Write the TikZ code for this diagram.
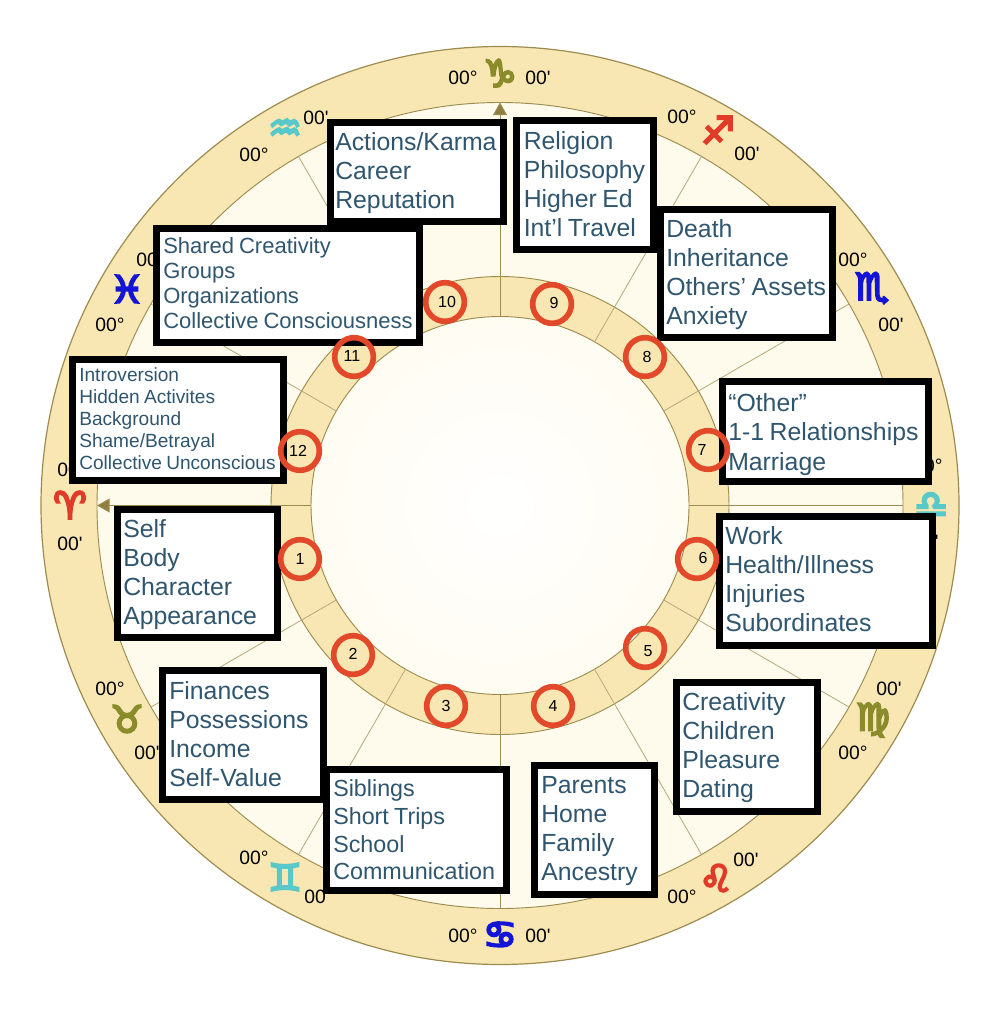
\documentclass[tikz,border=0pt]{standalone}
\usepackage{fontspec}
\setmainfont[WordSpace=0.8]{Liberation Sans}
\newfontfamily\degfont{Liberation Sans}
\newfontfamily\zodfont[FakeBold=6]{DejaVu Sans}
\usetikzlibrary{arrows.meta,calc}
\definecolor{ringfill}{HTML}{F8E7B2}
\definecolor{ringedge}{HTML}{9C8C50}
\definecolor{creamfill}{HTML}{FEFAEC}
\definecolor{holeedge}{HTML}{FFFCF2}
\definecolor{boxtext}{HTML}{2F566E}
\definecolor{circred}{HTML}{E2492B}
\definecolor{zolive}{HTML}{8A8C2C}
\definecolor{zred}{HTML}{E03A28}
\definecolor{zblue}{HTML}{1414D8}
\definecolor{zteal}{HTML}{58C8C8}
\definecolor{tipcol}{HTML}{8F7F40}
\tikzset{
  x=0.75pt,y=-0.75pt,
  cusp/.style={draw=ringedge!75,line width=0.6pt},
  axis/.style={draw=ringedge,line width=0.7pt},
  numcircle/.style={circle,draw=circred,line width=4.2pt,minimum size=29pt,inner sep=0pt},
  numlabel/.style={font=\fontsize{12pt}{12pt}\selectfont,text=black,inner sep=0pt},
  deg/.style={font=\degfont\fontsize{14.5pt}{14.5pt}\selectfont,text=black,inner sep=0pt},
  zod/.style={font=\zodfont\fontsize{28pt}{28pt}\selectfont,inner sep=0pt},
  frame/.style={draw=black,fill=white,line width=5.25pt,rectangle,inner sep=0pt},
  boxlabel/.style={text=boxtext,align=left,anchor=west,inner sep=0pt}
}
% name, x0, y0, x1, y1, text inset px, font px, leading px, text; the text is moved down by \tshift px
\newcommand\tshift{0}
\newcommand\infobox[9]{%
  \pgfmathsetmacro\bw{(#4-#2-7)*0.75}%
  \pgfmathsetmacro\bh{(#5-#3-7)*0.75}%
  \pgfmathsetmacro\fs{#7*0.75}%
  \pgfmathsetmacro\fl{#8*0.75}%
  \node[frame,minimum width=\bw pt,minimum height=\bh pt] (#1) at ({(#2+#4)/2},{(#3+#5)/2}) {};%
  \node[boxlabel,font=\fontsize{\fs pt}{\fl pt}\selectfont] (#1t) at ({#2+#6},{(#3+#5)/2+\tshift}) {#9};%
}
\begin{document}
\begin{tikzpicture}
\useasboundingbox (0,0) rectangle (1000,1016);
\fill[white] (0,0) rectangle (1000,1016);
\coordinate (c) at (500,505.5);
% wheel
\draw[fill=ringfill,draw=ringedge,line width=0.9pt] (c) circle[radius=344.25pt];
\draw[fill=creamfill,draw=ringedge,line width=0.7pt] (c) circle[radius=302.25pt];
\draw[fill=ringfill,draw=ringedge,line width=0.7pt] (c) circle[radius=171.75pt];
\shade[inner color=white,outer color=holeedge,draw=ringedge,line width=0.7pt] (c) circle[radius=141.75pt];
% cusps
\foreach \a in {30,60,120,150,210,240,300,330}{
  \draw[cusp] ($(c)+(\a:189)$) -- ($(c)+(\a:403)$);
}
\coordinate (nin) at ($(c)+(0,-189)$);
\coordinate (nout) at ($(c)+(0,-403)$);
\coordinate (sin) at ($(c)+(0,189)$);
\coordinate (sout) at ($(c)+(0,403)$);
\coordinate (win) at ($(c)+(-189,0)$);
\coordinate (wout) at ($(c)+(-403,0)$);
\coordinate (ein) at ($(c)+(189,0)$);
\coordinate (eout) at ($(c)+(403,0)$);
\draw[axis,-{Triangle[length=9.5pt,width=10.5pt,fill=tipcol]}] (nin) -- (nout);
\draw[axis,-{Triangle[length=9.5pt,width=10.5pt,fill=tipcol]}] (win) -- (wout);
\draw[axis] (sin) -- (sout);
\draw[axis] (ein) -- (eout);
% degree labels
\foreach \n/\x/\y/\t in {
 a1/463/78/00°, a2/538/78/00', b1/682/117/00°, b2/747/154/00',
 d1/853/260/00°, d2/891/325/00', e1/928/466/00°, e2/926/542/00',
 f1/889/689/00', f2/853/753/00°, g1/746/860/00', g2/682/897/00°,
 h1/463/936/00°, h2/538/936/00', i1/254/858/00°, i2/317/897/00',
 j1/110/689/00°, j2/147/753/00', k1/72/470/00°, k2/70/544/00',
 l1/110/325/00°, l2/149/260/00', m1/254/155/00°, m2/316/118/00'}{
  \node[deg] (\n) at (\x,\y) {\t};
}
% glyphs
\node[zod,text=zolive] (cap) at (500,73) {♑};
\node[zod,text=zred] (sag) at (718,130) {♐};
\node[zod,text=zblue] (sco) at (872,288) {♏};
\node[zod,text=zteal] (lib) at (931,505) {♎};
\node[zod,text=zolive] (vir) at (873,720) {♍};
\node[zod,text=zred] (leo) at (716,878) {♌};
\node[zod,text=zblue] (can) at (500,935) {♋};
\node[zod,text=zteal] (gem) at (285,877) {♊};
\node[zod,text=zolive] (tau) at (127,719) {♉};
\node[zod,text=zred] (ari) at (70,505) {♈};
\node[zod,text=zblue] (pis) at (127,289) {♓};
\node[zod,text=zteal] (aqu) at (285,130) {♒};
% boxes
\renewcommand\tshift{1}
\infobox{bact}{327}{119}{507}{225}{8}{24.8}{29}{Actions/Karma\\Career\\Reputation}
\renewcommand\tshift{-1}
\infobox{brel}{513}{117}{657}{253}{10.5}{24.8}{29}{Religion\\Philosophy\\Higher Ed\\Int’l Travel}
\renewcommand\tshift{1.5}
\infobox{bdea}{657}{206}{836}{341}{9}{24.8}{29}{Death\\Inheritance\\Others’ Assets\\Anxiety}
\renewcommand\tshift{-2}
\infobox{bsha}{153}{225}{423}{346}{10}{22}{25}{Shared Creativity\\Groups\\Organizations\\Collective Consciousness}
\renewcommand\tshift{-1}
\infobox{bint}{69}{356}{287}{484}{10}{19.1}{22}{Introversion\\Hidden Activites\\Background\\Shame/Betrayal\\Collective Unconscious}
\renewcommand\tshift{3}
\infobox{both}{719}{378}{932}{485}{9}{24.8}{29.5}{“Other”\\1-1 Relationships\\Marriage}
\renewcommand\tshift{1}
\infobox{bsel}{114}{506}{281}{641}{9}{24.8}{29}{Self\\Body\\Character\\Appearance}
\renewcommand\tshift{-2}
\infobox{bwor}{716}{513}{936}{649}{9}{24.8}{29}{Work\\Health/Illness\\Injuries\\Subordinates}
\renewcommand\tshift{1}
\infobox{bcre}{673}{679}{821}{815}{9}{24.8}{29}{Creativity\\Children\\Pleasure\\Dating}
\infobox{bpar}{531}{762}{658}{898}{10}{24.8}{29}{Parents\\Home\\Family\\Ancestry}
\renewcommand\tshift{-1}
\infobox{bfin}{159}{667}{327}{803}{10}{24.8}{29}{Finances\\Possessions\\Income\\Self-Value}
\renewcommand\tshift{0}
\infobox{bsib}{323}{766}{510}{894}{10}{23.3}{27.7}{Siblings\\Short Trips\\School\\Communication}
% circles and numbers above boxes
\foreach \n/\t/\x/\y/\u/\v in {c1/1/300/559/300/559, c2/2/353/655/353/654, c3/3/446/706/446/706, c4/4/553/706/553/706, c5/5/645/648/648/651,
  c6/6/697/559/703/558, c7/7/708/450/702/450,
  c8/8/645/357/647/357, c9/9/552/304/554/303, c10/10/445/302/447/302, c11/11/354/357/352/356, c12/12/300/451/298/451}{
  \node[numcircle] (\n) at (\x,\y) {};
  \node[numlabel] (l\n) at (\u,\v) {\t};
}
\end{tikzpicture}
\end{document}
